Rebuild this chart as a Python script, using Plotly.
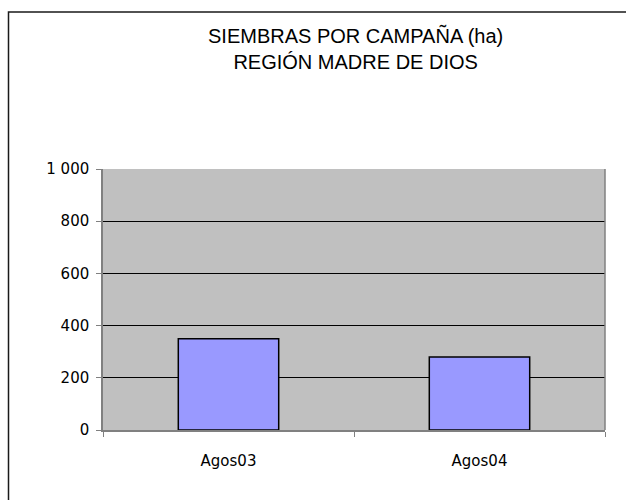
import plotly.graph_objects as go

categories = ["Agos03", "Agos04"]
values = [350, 280]
y_ticks = [0, 200, 400, 600, 800, 1000]
y_tick_labels = ["0", "200", "400", "600", "800", "1 000"]

fig = go.Figure()
fig.add_trace(go.Bar(
    x=categories, y=values, width=0.4,
    marker=dict(color="#9999FF", line=dict(color="#000000", width=1.5)),
))

L, R, T, B = 103, 21, 169, 70
W, H = 626, 500
pw, ph = W - L - R, H - T - B

def px(x):
    return (x - L) / pw

def py(y):
    return (H - B - y) / ph

fig.add_shape(type="rect", xref="paper", yref="paper",
              x0=px(8.5), x1=px(640), y0=py(520), y1=py(12),
              line=dict(color="#1a1a1a", width=1.5), fillcolor="rgba(0,0,0,0)", layer="below")

fig.add_annotation(xref="paper", yref="paper", x=px(355), y=py(48), xanchor="center", yanchor="middle",
                   text="SIEMBRAS POR CAMPAÑA (ha)<br>REGIÓN MADRE DE DIOS", showarrow=False,
                   font=dict(family="Liberation Sans, Arial", size=20, color="#000000"))

tick_font = dict(family="DejaVu Sans", size=15, color="#000000")

fig.update_layout(
    width=W, height=H,
    margin=dict(l=L, r=R, t=T, b=B),
    paper_bgcolor="#FFFFFF", plot_bgcolor="#C0C0C0",
    showlegend=False, bargap=0.6,
    font=dict(family="DejaVu Sans", size=15, color="#000000"),
)
fig.update_xaxes(tickson="boundaries", ticks="outside", ticklen=5, tickcolor="#808080",
                 showline=True, linecolor="#808080", linewidth=1.5, showgrid=False,
                 tickfont=tick_font, mirror=False, ticklabelstandoff=16)
fig.update_yaxes(range=[0, 1000], tickvals=y_ticks, ticktext=y_tick_labels,
                 ticks="outside", ticklen=5, tickcolor="#808080",
                 showline=True, linecolor="#808080", linewidth=1.5,
                 showgrid=True, gridcolor="#000000", gridwidth=1, zeroline=False,
                 tickfont=tick_font, ticklabelstandoff=4)
fig.add_shape(type="line", xref="paper", yref="paper", x0=1, x1=1, y0=0, y1=1,
              line=dict(color="#808080", width=1.5))

fig.write_html("out.html", config={"displayModeBar": False},
               post_script="document.body.style.margin='0';document.body.style.overflow='hidden';")
